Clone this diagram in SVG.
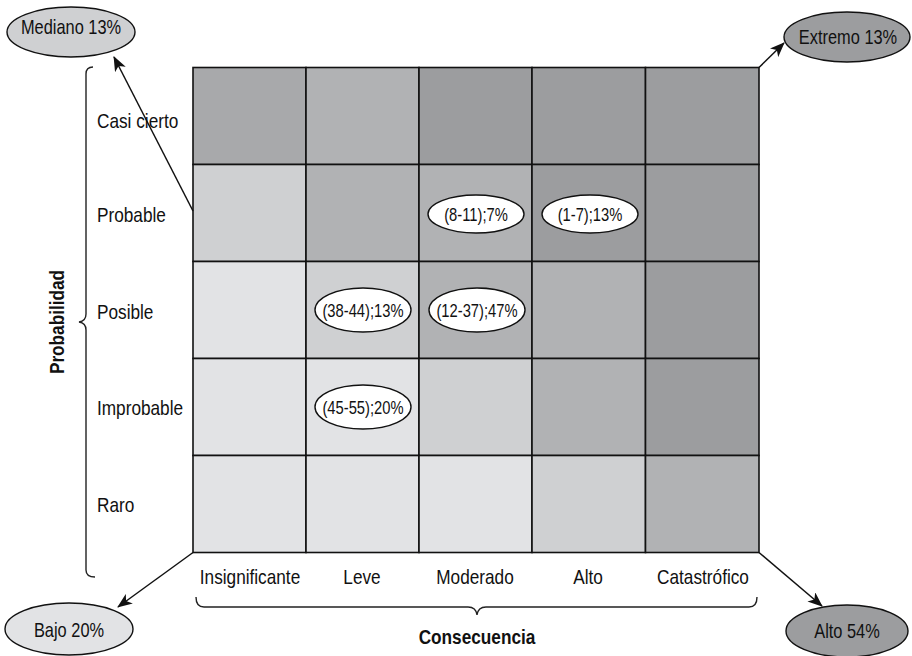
<svg xmlns="http://www.w3.org/2000/svg" width="912" height="656" viewBox="0 0 912 656">
<style>
.t{font-family:"Liberation Sans",Arial,sans-serif;font-size:21px;fill:#111;}
.b{font-weight:bold;}
.m{text-anchor:middle;}
.s{font-size:18px;}
.e{font-size:20px;}
.cell{stroke:#111;stroke-width:1.6;}
.c1{fill:#e2e3e5;}.c2{fill:#cfd0d2;}.c3{fill:#b1b2b4;}.c4{fill:#a8a9ab;}.c5{fill:#9c9d9f;}
.ov{stroke:#111;stroke-width:1.4;}
.w{fill:#fff;}
.conn{stroke:#111;stroke-width:1.5;fill:none;}
.br{stroke:#222;stroke-width:1.4;fill:none;}
</style>
<defs>
<marker id="ah" markerUnits="userSpaceOnUse" markerWidth="16" markerHeight="12" refX="14" refY="6" orient="auto">
<path d="M0,0 L15,6 L0,12 L4,6 z" fill="#111"/>
</marker>
</defs>
<rect width="912" height="656" fill="#fff"/>
<g id="grid">
<rect class="cell c4" x="193" y="67.5" width="113" height="97"/>
<rect class="cell c3" x="306" y="67.5" width="113" height="97"/>
<rect class="cell c5" x="419" y="67.5" width="113" height="97"/>
<rect class="cell c5" x="532" y="67.5" width="113.5" height="97"/>
<rect class="cell c5" x="645.5" y="67.5" width="113.5" height="97"/>
<rect class="cell c2" x="193" y="164.5" width="113" height="97"/>
<rect class="cell c3" x="306" y="164.5" width="113" height="97"/>
<rect class="cell c3" x="419" y="164.5" width="113" height="97"/>
<rect class="cell c5" x="532" y="164.5" width="113.5" height="97"/>
<rect class="cell c5" x="645.5" y="164.5" width="113.5" height="97"/>
<rect class="cell c1" x="193" y="261.5" width="113" height="97"/>
<rect class="cell c2" x="306" y="261.5" width="113" height="97"/>
<rect class="cell c3" x="419" y="261.5" width="113" height="97"/>
<rect class="cell c3" x="532" y="261.5" width="113.5" height="97"/>
<rect class="cell c5" x="645.5" y="261.5" width="113.5" height="97"/>
<rect class="cell c1" x="193" y="358.5" width="113" height="97"/>
<rect class="cell c1" x="306" y="358.5" width="113" height="97"/>
<rect class="cell c2" x="419" y="358.5" width="113" height="97"/>
<rect class="cell c3" x="532" y="358.5" width="113.5" height="97"/>
<rect class="cell c5" x="645.5" y="358.5" width="113.5" height="97"/>
<rect class="cell c1" x="193" y="455.5" width="113" height="97"/>
<rect class="cell c1" x="306" y="455.5" width="113" height="97"/>
<rect class="cell c1" x="419" y="455.5" width="113" height="97"/>
<rect class="cell c2" x="532" y="455.5" width="113.5" height="97"/>
<rect class="cell c3" x="645.5" y="455.5" width="113.5" height="97"/>
</g>
<g id="cell-8-11">
<ellipse class="ov w" cx="476" cy="214" rx="48" ry="19"/>
<text class="t s m" transform="translate(476,220.5) scale(0.82,1)">(8-11);7%</text>
</g>
<g id="cell-1-7">
<ellipse class="ov w" cx="590" cy="214" rx="48" ry="19"/>
<text class="t s m" transform="translate(590,220.5) scale(0.82,1)">(1-7);13%</text>
</g>
<g id="cell-38-44">
<ellipse class="ov w" cx="363" cy="310" rx="48" ry="22"/>
<text class="t s m" transform="translate(363,316.5) scale(0.82,1)">(38-44);13%</text>
</g>
<g id="cell-12-37">
<ellipse class="ov w" cx="477" cy="310" rx="48" ry="22"/>
<text class="t s m" transform="translate(477,316.5) scale(0.82,1)">(12-37);47%</text>
</g>
<g id="cell-45-55">
<ellipse class="ov w" cx="363" cy="407" rx="48" ry="22"/>
<text class="t s m" transform="translate(363,413.5) scale(0.82,1)">(45-55);20%</text>
</g>
<g id="row-labels">
<text class="t" transform="translate(97,128) scale(0.82,1)">Casi cierto</text>
<text class="t" transform="translate(97,222) scale(0.82,1)">Probable</text>
<text class="t" transform="translate(97,319) scale(0.82,1)">Posible</text>
<text class="t" transform="translate(97,415) scale(0.82,1)">Improbable</text>
<text class="t" transform="translate(97,512) scale(0.82,1)">Raro</text>
</g>
<g id="col-labels">
<text class="t m" transform="translate(250,584) scale(0.82,1)">Insignificante</text>
<text class="t m" transform="translate(362,584) scale(0.82,1)">Leve</text>
<text class="t m" transform="translate(475,584) scale(0.82,1)">Moderado</text>
<text class="t m" transform="translate(588,584) scale(0.82,1)">Alto</text>
<text class="t m" transform="translate(703,584) scale(0.82,1)">Catastrófico</text>
</g>
<g id="probabilidad">
<path class="br" d="M93,67 Q86,67 86,74 L86,314 Q86,321 79,322 Q86,323 86,330 L86,570 Q86,577 95,577"/>
<text class="t b m" transform="translate(64,322) rotate(-90) scale(0.82,1)">Probabilidad</text>
</g>
<g id="consecuencia">
<path class="br" d="M196,597 Q196,607 204,607 L468,607 Q476,607 477,615 Q478,607 486,607 L749,607 Q757,607 757,597"/>
<text class="t b m" transform="translate(477,644) scale(0.82,1)">Consecuencia</text>
</g>
<g id="mediano">
<ellipse class="ov" cx="71" cy="32" rx="64" ry="25" fill="#cfd0d2"/>
<text class="t e m" transform="translate(71,34) scale(0.82,1)">Mediano 13%</text>
</g>
<g id="extremo">
<ellipse class="ov" cx="847" cy="37" rx="63" ry="25" fill="#9c9d9f"/>
<text class="t e m" transform="translate(848,44) scale(0.82,1)">Extremo 13%</text>
</g>
<g id="bajo">
<ellipse class="ov" cx="69" cy="629" rx="64" ry="26" fill="#e2e3e5"/>
<text class="t e m" transform="translate(69,637) scale(0.82,1)">Bajo 20%</text>
</g>
<g id="alto">
<ellipse class="ov" cx="847" cy="631" rx="61" ry="26" fill="#9c9d9f"/>
<text class="t e m" transform="translate(847,638) scale(0.82,1)">Alto 54%</text>
</g>
<g id="connectors">
<line class="conn" x1="193" y1="211" x2="114" y2="57" marker-end="url(#ah)"/>
<line class="conn" x1="759" y1="67.5" x2="784" y2="43" marker-end="url(#ah)"/>
<line class="conn" x1="193" y1="552.5" x2="118" y2="607" marker-end="url(#ah)"/>
<line class="conn" x1="759" y1="552.5" x2="822" y2="606" marker-end="url(#ah)"/>
</g>
</svg>
